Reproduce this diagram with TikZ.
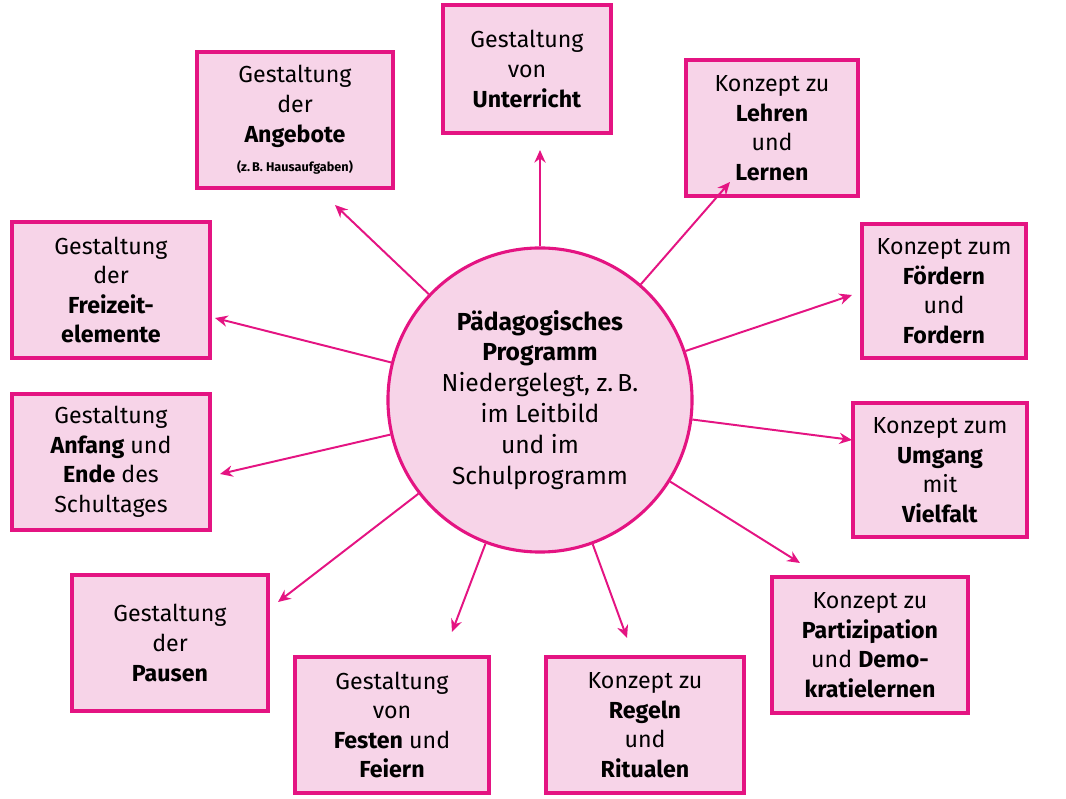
\documentclass[tikz,border=0pt]{standalone}
\usepackage{fontspec}
\setmainfont{Fira Sans}
\usetikzlibrary{arrows.meta}
\definecolor{pmag}{RGB}{228,20,130}
\definecolor{ppink}{RGB}{247,212,232}
\tikzset{
    topic/.style = {draw=pmag, fill=ppink, line width=2.2pt, align=center,
                    font=\fontsize{16.5}{21}\selectfont, inner sep=0pt},
    link/.style  = {draw=pmag, line width=1.4pt, -{Stealth[length=9pt,width=8pt]}}
}
\begin{document}
\begin{tikzpicture}%
    [x=0.025cm, y=-0.025cm]
    \useasboundingbox (0,0) rectangle (1066,799);

    \node[draw=pmag, fill=ppink, line width=2.2pt, circle, minimum size=7.6cm, align=center,
          font=\fontsize{17.5}{22}\selectfont] (prog) at (540,400)
        {\textbf{Pädagogisches}\\\textbf{Programm}\\Niedergelegt, z.\,B.\\im Leitbild\\und im\\Schulprogramm};

    % Kaesten rundherum
    \node[topic, minimum width=4.9cm, minimum height=3.4cm] (angebote) at (295,120)
        {Gestaltung\\der\\\textbf{Angebote}\\{\fontsize{9}{14}\selectfont\textbf{(z.\,B. Hausaufgaben)}}};
    \node[topic, minimum width=4.2cm, minimum height=3.2cm] (unterricht) at (527,69)
        {Gestaltung\\von\\\textbf{Unterricht}};
    \node[topic, minimum width=4.3cm, minimum height=3.4cm] (lehren) at (772,128)
        {Konzept zu\\\textbf{Lehren}\\und\\\textbf{Lernen}};
    \node[topic, minimum width=4.1cm, minimum height=3.35cm] (foerdern) at (944,291)
        {Konzept zum\\\textbf{Fördern}\\und\\\textbf{Fordern}};
    \node[topic, minimum width=4.35cm, minimum height=3.35cm] (vielfalt) at (940,470)
        {Konzept zum\\\textbf{Umgang}\\mit\\\textbf{Vielfalt}};
    \node[topic, minimum width=4.9cm, minimum height=3.4cm] (partizip) at (870,645)
        {Konzept zu\\\textbf{Partizipation}\\und \textbf{Demo-}\\\textbf{kratielernen}};
    \node[topic, minimum width=4.95cm, minimum height=3.4cm] (regeln) at (645,725)
        {Konzept zu\\\textbf{Regeln}\\und\\\textbf{Ritualen}};
    \node[topic, minimum width=4.85cm, minimum height=3.4cm] (feste) at (392,725)
        {Gestaltung\\von\\\textbf{Festen} und\\\textbf{Feiern}};
    \node[topic, minimum width=4.9cm, minimum height=3.4cm] (pausen) at (170,643)
        {Gestaltung\\der\\\textbf{Pausen}};
    \node[topic, minimum width=4.95cm, minimum height=3.4cm] (anfang) at (111,462)
        {Gestaltung\\\textbf{Anfang} und\\\textbf{Ende} des\\Schultages};
    \node[topic, minimum width=4.95cm, minimum height=3.4cm] (freizeit) at (111,290)
        {Gestaltung\\der\\\textbf{Freizeit-}\\\textbf{elemente}};

    % Pfeilspitzen
    \coordinate (tAngebote) at (335,205);
    \coordinate (tUnterricht) at (540,150);
    \coordinate (tLehren) at (730,182);
    \coordinate (tFoerdern) at (852,295);
    \coordinate (tVielfalt) at (852,440);
    \coordinate (tPartizip) at (800,563);
    \coordinate (tRegeln) at (627,638);
    \coordinate (tFeste) at (452,632);
    \coordinate (tPausen) at (278,602);
    \coordinate (tAnfang) at (220,474);
    \coordinate (tFreizeit) at (215,318);

    \foreach \t in {Angebote,Unterricht,Lehren,Foerdern,Vielfalt,Partizip,Regeln,Feste,Pausen,Anfang,Freizeit}
        \draw[link] (prog) -- (t\t);
\end{tikzpicture}
\end{document}
